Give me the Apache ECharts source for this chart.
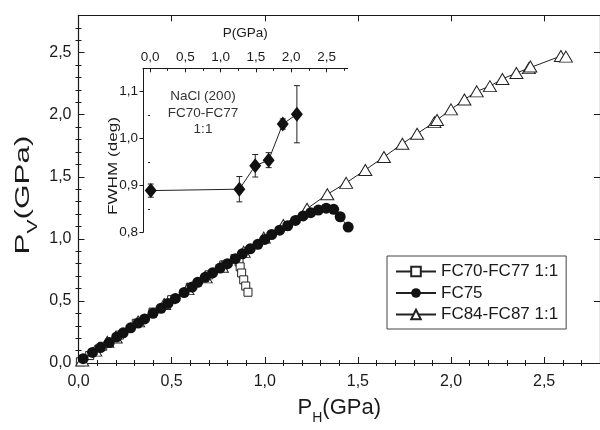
<!DOCTYPE html>
<html>
<head>
<meta charset="utf-8">
<script src="https://cdn.jsdelivr.net/npm/echarts@6/dist/echarts.min.js"></script>
<style>
html,body{margin:0;padding:0;background:#fff;}
#chart{width:600px;height:430px;}
</style>
</head>
<body>
<div id="chart"></div>
<script>
// ---------- data ----------
const seriesNames = ['FC70-FC77 1:1', 'FC75', 'FC84-FC87 1:1'];

const fc70x = [0.01, 0.06, 0.13, 0.22, 0.31, 0.40, 0.50, 0.60, 0.70, 0.78, 0.84, 0.862, 0.868, 0.876, 0.887, 0.898, 0.910];
const fc70y = [0.01, 0.06, 0.135, 0.225, 0.32, 0.41, 0.51, 0.61, 0.71, 0.79, 0.84, 0.815, 0.775, 0.725, 0.67, 0.62, 0.57];

const fc75x = [0.025, 0.075, 0.118, 0.165, 0.205, 0.24, 0.28, 0.32, 0.355, 0.40, 0.443, 0.48, 0.52, 0.567, 0.61, 0.64, 0.68, 0.72, 0.76, 0.80, 0.842, 0.88, 0.922, 0.963, 1.00, 1.037, 1.08, 1.123, 1.165, 1.206, 1.247, 1.288, 1.33, 1.37, 1.405, 1.448];
const fc75y = [0.035, 0.085, 0.124, 0.165, 0.21, 0.243, 0.283, 0.322, 0.355, 0.40, 0.441, 0.48, 0.52, 0.568, 0.612, 0.65, 0.69, 0.726, 0.765, 0.80, 0.84, 0.88, 0.92, 0.956, 0.995, 1.035, 1.07, 1.106, 1.148, 1.185, 1.211, 1.232, 1.247, 1.238, 1.178, 1.095];

const fc84x = [0.02, 0.09, 0.155, 0.20, 0.32, 0.46, 0.585, 0.683, 0.77, 0.887, 0.995, 1.10, 1.227, 1.336, 1.437, 1.54, 1.64, 1.739, 1.818, 1.911, 1.925, 2.00, 2.072, 2.138, 2.209, 2.276, 2.351, 2.418, 2.426, 2.59, 2.617];
const fc84y = [0.02, 0.10, 0.17, 0.205, 0.335, 0.475, 0.595, 0.69, 0.775, 0.895, 1.01, 1.112, 1.243, 1.359, 1.451, 1.555, 1.66, 1.766, 1.847, 1.94, 1.958, 2.043, 2.122, 2.188, 2.23, 2.288, 2.336, 2.375, 2.389, 2.473, 2.468];

// inset: FWHM of NaCl (200) vs P
const insetP    = [0.01, 1.265, 1.49, 1.68, 1.88, 2.08];
const insetFwhm = [0.889, 0.892, 0.942, 0.954, 1.031, 1.052];
const insetErr  = [0.014, 0.027, 0.024, 0.016, 0.011, 0.061];

// tick positions / labels
const mainMajorTicks = [0, 0.5, 1.0, 1.5, 2.0, 2.5];
const mainMinorTicks = [0.1, 0.2, 0.3, 0.4, 0.6, 0.7, 0.8, 0.9, 1.1, 1.2, 1.3, 1.4, 1.6, 1.7, 1.8, 1.9, 2.1, 2.2, 2.3, 2.4, 2.6, 2.7];
const insetXMajorTicks = [0, 0.5, 1.0, 1.5, 2.0, 2.5];
const insetXMinorTicks = [0.25, 0.75, 1.25, 1.75, 2.25, 2.75];
const insetYMajorTicks = [0.8, 0.9, 1.0, 1.1];
const insetYMinorTicks = [0.85, 0.95, 1.05, 1.15];
const insetNote = ['NaCl (200)', 'FC70-FC77', '1:1'];

// ---------- chart ----------
const FONT = '"Liberation Sans", Arial, sans-serif';
const AX = '#1a1a1a';
const TXT = '#1a1a1a';
const fmt = v => Number(v).toFixed(1).replace('.', ',');
const zip = (a, b) => a.map((v, i) => [v, b[i]]);

function axis(o) {
  return Object.assign({
    type: 'value',
    splitLine: {show: false},
    axisLine: {show: true, onZero: false, lineStyle: {color: AX, width: 1.2}},
    axisTick: {show: true, inside: true, length: 6, lineStyle: {color: AX, width: 1}},
    axisLabel: {show: false},
    silent: true
  }, o);
}
function ticks(vals, len, inside) {
  return {show: true, inside: inside, length: len, customValues: vals, lineStyle: {color: AX, width: 1}};
}
const mainLabel = (vals, margin) => ({show: true, customValues: vals, formatter: fmt, fontFamily: FONT, fontSize: 16, color: TXT, margin: margin});
const insetLabel = (vals, margin) => ({show: true, customValues: vals, formatter: fmt, fontFamily: FONT, fontSize: 13.5, color: TXT, margin: margin});

const chart = echarts.init(document.getElementById('chart'), null, {renderer: 'canvas'});

const option = {
  animation: false,
  backgroundColor: '#fff',
  grid: [
    {left: 78.5, top: 15.4, width: 525.8, height: 353.6, containLabel: false},
    {left: 143, top: 68.3, width: 204.7, height: 164, containLabel: false}
  ],
  xAxis: [
    axis({gridIndex: 0, position: 'bottom', min: 0, max: 2.8,
      axisTick: ticks(mainMajorTicks, 6, true),
      axisLabel: mainLabel(mainMajorTicks, 11),
      name: '{a|P}{b|H}{a|(GPa)}', nameLocation: 'middle', nameGap: 32,
      nameTextStyle: {fontFamily: FONT, color: TXT, rich: {
        a: {fontFamily: FONT, fontSize: 22, color: TXT, lineHeight: 26},
        b: {fontFamily: FONT, fontSize: 14, color: TXT, lineHeight: 14, verticalAlign: 'bottom', padding: [0, 0, -4, 0]}
      }}}),
    axis({gridIndex: 0, position: 'bottom', min: 0, max: 2.8, axisLine: {show: false}, axisTick: ticks(mainMinorTicks, 3, true)}),
    axis({gridIndex: 0, position: 'top', min: 0, max: 2.8, axisTick: ticks(mainMajorTicks, 6, true)}),
    axis({gridIndex: 0, position: 'top', min: 0, max: 2.8, axisLine: {show: false}, axisTick: ticks(mainMinorTicks, 3, true)}),
    axis({gridIndex: 1, position: 'top', min: -0.1, max: 2.8,
      axisLine: {show: true, onZero: false, lineStyle: {color: AX, width: 1}},
      axisTick: ticks(insetXMajorTicks, 4, true),
      axisLabel: insetLabel(insetXMajorTicks, 4),
      name: 'P(GPa)', nameLocation: 'middle', nameGap: 28,
      nameTextStyle: {fontFamily: FONT, fontSize: 13.5, color: TXT}}),
    axis({gridIndex: 1, position: 'top', min: -0.1, max: 2.8, axisLine: {show: false}, axisTick: ticks(insetXMinorTicks, 2.5, true)})
  ],
  yAxis: [
    axis({gridIndex: 0, position: 'left', min: 0, max: 2.8,
      axisTick: ticks(mainMajorTicks, 6, true),
      axisLabel: mainLabel(mainMajorTicks, 7)}),
    axis({gridIndex: 0, position: 'left', min: 0, max: 2.8, axisLine: {show: false}, axisTick: ticks(mainMinorTicks, 3, true)}),
    axis({gridIndex: 0, position: 'right', min: 0, max: 2.8, axisTick: ticks(mainMajorTicks, 6, true)}),
    axis({gridIndex: 0, position: 'right', min: 0, max: 2.8, axisLine: {show: false}, axisTick: ticks(mainMinorTicks, 3, true)}),
    axis({gridIndex: 1, position: 'left', min: 0.8, max: 1.15,
      axisLine: {show: true, onZero: false, lineStyle: {color: AX, width: 1}},
      axisTick: ticks(insetYMajorTicks, 3.5, false),
      axisLabel: insetLabel(insetYMajorTicks, 5)}),
    axis({gridIndex: 1, position: 'left', min: 0.8, max: 1.15, axisLine: {show: false}, axisTick: ticks(insetYMinorTicks, 2, false)})
  ],
  legend: {
    orient: 'vertical',
    left: 387, top: 256,
    data: seriesNames,
    itemWidth: 40, itemHeight: 12, itemGap: 4.5,
    padding: [7, 8, 6, 8],
    borderColor: '#444', borderWidth: 1, borderRadius: 0,
    backgroundColor: '#fff',
    textStyle: {fontFamily: FONT, fontSize: 17, color: TXT},
    selectedMode: false
  },
  series: [
    {name: seriesNames[0], type: 'line', xAxisIndex: 0, yAxisIndex: 0, z: 3,
      data: zip(fc70x, fc70y), symbol: 'rect', symbolSize: 8,
      itemStyle: {color: '#fff', borderColor: '#222', borderWidth: 1},
      lineStyle: {color: '#222', width: 1}},
    {name: seriesNames[1], type: 'line', xAxisIndex: 0, yAxisIndex: 0, z: 5,
      data: zip(fc75x, fc75y), symbol: 'circle', symbolSize: 11,
      itemStyle: {color: '#111', borderColor: '#111', borderWidth: 0},
      lineStyle: {color: '#222', width: 1}},
    {name: seriesNames[2], type: 'line', xAxisIndex: 0, yAxisIndex: 0, z: 4,
      data: zip(fc84x, fc84y), symbol: 'triangle', symbolSize: [13, 11],
      itemStyle: {color: '#fff', borderColor: '#222', borderWidth: 1},
      lineStyle: {color: '#222', width: 1}},
    {name: 'inset', type: 'line', xAxisIndex: 4, yAxisIndex: 4, z: 6,
      data: zip(insetP, insetFwhm), symbol: 'diamond', symbolSize: [12, 15],
      itemStyle: {color: '#111'}, lineStyle: {color: '#222', width: 1}},
    {name: 'insetErr', type: 'custom', xAxisIndex: 4, yAxisIndex: 4, z: 5,
      data: insetP.map((p, i) => [p, insetFwhm[i] - insetErr[i], insetFwhm[i] + insetErr[i]]),
      renderItem: function (params, api) {
        const x = api.value(0);
        const a = api.coord([x, api.value(1)]);
        const b = api.coord([x, api.value(2)]);
        const w = 3;
        const st = {stroke: '#222', lineWidth: 1};
        return {type: 'group', children: [
          {type: 'line', shape: {x1: a[0], y1: a[1], x2: b[0], y2: b[1]}, style: st},
          {type: 'line', shape: {x1: a[0] - w, y1: a[1], x2: a[0] + w, y2: a[1]}, style: st},
          {type: 'line', shape: {x1: b[0] - w, y1: b[1], x2: b[0] + w, y2: b[1]}, style: st}
        ]};
      }}
  ],
  graphic: [
    {type: 'text', x: 23, y: 195, rotation: Math.PI / 2, scaleX: 1.5, scaleY: 1,
      style: {text: '{a|P}{b|V}{a|(GPa)}', align: 'center', verticalAlign: 'middle', fill: TXT,
        rich: {
          a: {fontFamily: FONT, fontSize: 21, fill: TXT, lineHeight: 26},
          b: {fontFamily: FONT, fontSize: 14, fill: TXT, lineHeight: 14, verticalAlign: 'bottom', padding: [0, 0, -4, 0]}
        }}},
    {type: 'text', x: 113, y: 166, rotation: Math.PI / 2, scaleX: 1.27, scaleY: 1,
      style: {text: 'FWHM (deg)', align: 'center', verticalAlign: 'middle', fill: TXT,
        font: '13.5px ' + FONT}},
    {type: 'text', x: 203, y: 113, style: {text: insetNote.join('\n'), align: 'center', verticalAlign: 'middle',
      fill: '#333', font: '13.5px ' + FONT, lineHeight: 16.5}}
  ]
};
chart.setOption(option);
</script>
</body>
</html>
